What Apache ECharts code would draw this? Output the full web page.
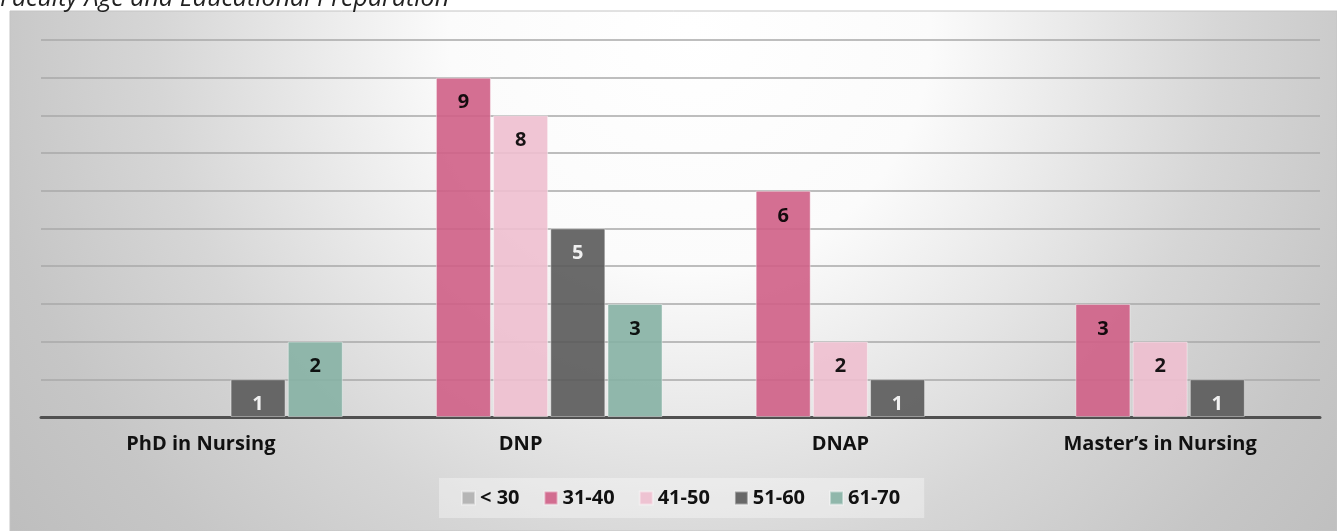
<!DOCTYPE html>
<html>
<head>
<meta charset="utf-8">
<script src="https://cdn.jsdelivr.net/npm/echarts@6/dist/echarts.min.js"></script>
<style>
  html, body { margin: 0; padding: 0; background: #fff; }
  #chart { width: 1337px; height: 531px; }
</style>
</head>
<body>
<div id="chart"></div>
<script>
// data
const categories = ["PhD in Nursing", "DNP", "DNAP", "Master\u2019s in Nursing"];
const ageGroups = ["< 30", "31-40", "41-50", "51-60", "61-70"];
const under30 = [0, 0, 0, 0];
const age31to40 = [0, 9, 6, 3];
const age41to50 = [0, 8, 2, 2];
const age51to60 = [1, 5, 1, 1];
const age61to70 = [2, 3, 0, 0];
const yTicks = [0, 1, 2, 3, 4, 5, 6, 7, 8, 9, 10];

const seriesValues = [under30, age31to40, age41to50, age51to60, age61to70];
const colors = ["#b0b0b0", "#cf5f86", "#eebfcf", "#5a5a5a", "#86b1a4"];
const labelColors = ["#000", "#000", "#000", "#fff", "#000"];

const chart = echarts.init(document.getElementById("chart"));

const series = ageGroups.map(function (name, i) {
  return {
    name: name,
    type: "bar",
    // zero counts are not drawn at all (no sliver on the axis)
    data: seriesValues[i].map(function (v) { return v === 0 ? "-" : v; }),
    barWidth: 55,
    barGap: "4%",
    itemStyle: {
      color: colors[i],
      opacity: 0.9,
      borderColor: "rgba(255,255,255,0.45)",
      borderWidth: 1
    },
    label: {
      show: true,
      position: "insideTop",
      distance: 15,
      color: labelColors[i],
      fontFamily: "Open Sans",
      fontWeight: "bold",
      fontSize: 20
    }
  };
});

const option = {
  animation: false,
  graphic: [
    {
      type: "rect",
      z: -10,
      silent: true,
      shape: { x: 10, y: 11, width: 1327, height: 520 },
      style: {
        fill: new echarts.graphic.RadialGradient(690, 30, 860, [
          { offset: 0, color: "#ffffff" },
          { offset: 0.28, color: "#fbfbfb" },
          { offset: 0.62, color: "#d6d6d6" },
          { offset: 0.82, color: "#c6c6c6" },
          { offset: 1, color: "#bdbdbd" }
        ], true),
        stroke: "#c4c4c4",
        lineWidth: 1
      }
    }
  ],
  title: {
    text: "Faculty Age and Educational Preparation",
    left: 0,
    top: -14,
    padding: 0,
    textStyle: {
      fontFamily: "Open Sans",
      fontStyle: "italic",
      fontWeight: "normal",
      fontSize: 25,
      color: "#222"
    }
  },
  legend: {
    data: ageGroups,
    top: 478,
    left: 439,
    padding: [10, 24, 10, 22],
    backgroundColor: "rgba(255,255,255,0.35)",
    itemWidth: 13,
    itemHeight: 13,
    itemGap: 24,
    icon: "rect",
    textStyle: {
      fontFamily: "Open Sans",
      fontWeight: "bold",
      fontSize: 20,
      color: "#111"
    }
  },
  grid: {
    left: 41,
    right: 17,
    top: 40,
    bottom: 114
  },
  xAxis: {
    type: "category",
    data: categories,
    axisTick: { show: false },
    axisLine: { lineStyle: { color: "#505050", width: 3 } },
    axisLabel: {
      margin: 17,
      fontFamily: "Open Sans",
      fontWeight: "bold",
      fontSize: 20,
      color: "#111"
    }
  },
  yAxis: {
    type: "value",
    min: yTicks[0],
    max: yTicks[yTicks.length - 1],
    interval: 1,
    axisLabel: { show: false },
    axisLine: { show: false },
    axisTick: { show: false },
    splitLine: { lineStyle: { color: "#a9a9a9", width: 1.5 } }
  },
  series: series
};

chart.setOption(option);
</script>
</body>
</html>
